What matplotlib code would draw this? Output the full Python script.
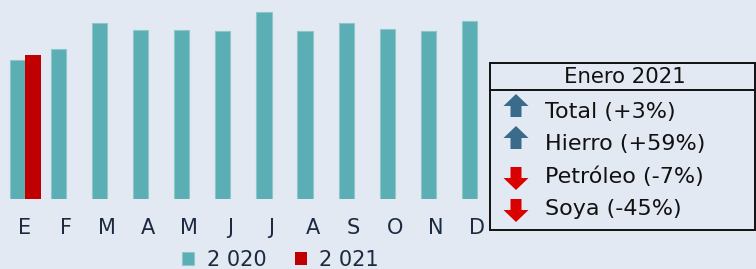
import matplotlib
matplotlib.use("Agg")
import matplotlib.pyplot as plt
from matplotlib.patches import Rectangle, Polygon
import numpy as np

months = ["E", "F", "M", "A", "M", "J", "J", "A", "S", "O", "N", "D"]
values_2020 = [139.3, 149.7, 176.3, 169.0, 168.7, 168.3, 187.0, 168.0, 175.7, 170.0, 167.7, 177.7]
values_2021 = [144.0]
series_labels = ["2 020", "2 021"]
box_title = "Enero 2021"
box_items = ["Total (+3%)", "Hierro (+59%)", "Petróleo (-7%)", "Soya (-45%)"]
box_dirs = ["up", "up", "down", "down"]

BG = "#E3E9F2"
TEAL = "#5BAEB3"
RED = "#C00000"
TXT = "#1B2A41"
W, H = 756, 269

fig = plt.figure(figsize=(W / 100, H / 100), dpi=100, facecolor=BG)
ax = fig.add_axes([4.5 / W, (H - 199) / H, 493 / W, 199 / H])
ax.set_facecolor(BG)

x = np.arange(len(months))
bw = 0.37
ax.bar(x - bw / 2, values_2020, width=bw, color=TEAL, edgecolor="#8CC7CB",
       linewidth=0.8, label=series_labels[0], zorder=2)
ax.bar(x[:len(values_2021)] + bw / 2 + 0.01, values_2021, width=bw + 0.02, color=RED,
       linewidth=0, label=series_labels[1], zorder=3)

ax.set_xlim(-0.5, len(months) - 0.5)
ax.set_ylim(0, 199)
ax.set_xticks(x)
ax.set_xticklabels(months, fontsize=15, color=TXT)
ax.tick_params(axis="x", length=0, pad=14)
ax.set_yticks([])
for s in ax.spines.values():
    s.set_visible(False)

leg = ax.legend(loc="upper left", bbox_to_anchor=(182 / W, 19 / H), bbox_transform=fig.transFigure,
                ncol=2, frameon=False, fontsize=15, handlelength=0.58, handleheight=0.58,
                handletextpad=0.61, columnspacing=1.35, borderaxespad=0, borderpad=0)
for t in leg.get_texts():
    t.set_color(TXT)

# Info box in figure pixel coordinates
def fx(px):
    return px / W

def fy(py):
    return 1 - py / H

box = Rectangle((fx(490), fy(230)), fx(755) - fx(490), fy(63) - fy(230),
                transform=fig.transFigure, facecolor=BG, edgecolor="#111111",
                linewidth=1.4, zorder=10)
fig.add_artist(box)
fig.add_artist(plt.Line2D([fx(490), fx(755)], [fy(90), fy(90)], transform=fig.transFigure,
                          color="#111111", linewidth=1.4, zorder=11))
fig.text(fx(625), fy(77), box_title, fontsize=15.3, color="#111111", ha="center",
         va="center", zorder=12)

row_y = [112, 144, 177, 209]
for yy, lab, d in zip(row_y, box_items, box_dirs):
    cx = 516
    if d == "up":
        col = "#3A6B8A"
        pts = [(cx - 12.5, yy - 6), (cx, yy - 18), (cx + 12.5, yy - 6), (cx + 5.5, yy - 6),
               (cx + 5.5, yy + 5), (cx - 5.5, yy + 5), (cx - 5.5, yy - 6)]
    else:
        col = "#D90000"
        pts = [(cx - 12.5, yy + 1), (cx, yy + 13), (cx + 12.5, yy + 1), (cx + 5.5, yy + 1),
               (cx + 5.5, yy - 10), (cx - 5.5, yy - 10), (cx - 5.5, yy + 1)]
    poly = Polygon([(fx(a), fy(b)) for a, b in pts], closed=True, transform=fig.transFigure,
                   facecolor=col, edgecolor="none", zorder=12)
    fig.add_artist(poly)
    fig.text(fx(545), fy(yy), lab, fontsize=16, color="#111111", ha="left", va="center",
             zorder=12)

fig.savefig("out.png", dpi=100, facecolor=BG)
